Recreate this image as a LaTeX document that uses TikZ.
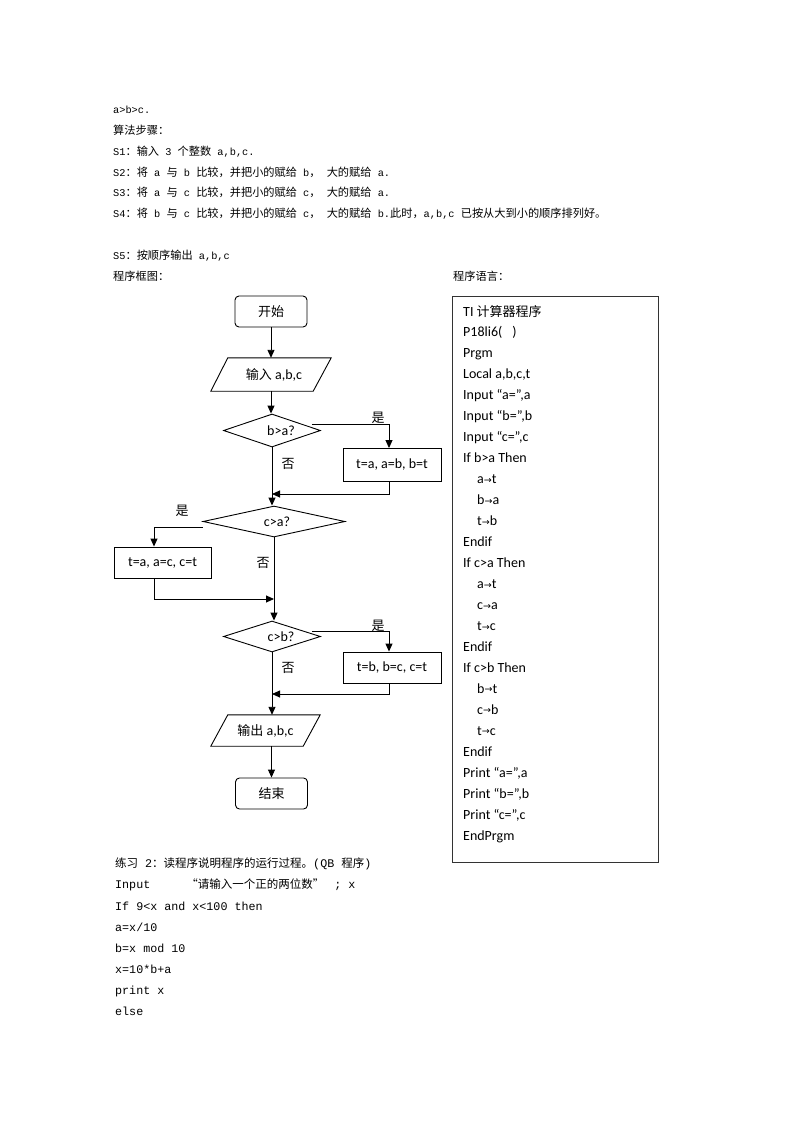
\documentclass[tikz,border=0pt]{standalone}
\usepackage{fontspec}
\setmainfont{Liberation Serif}
\newfontfamily\cjkfont{Noto Sans CJK SC}
\newfontfamily\califont{Carlito}
\newfontfamily\simmono{Liberation Mono}
\newfontfamily\symfont{DejaVu Sans}
\usetikzlibrary{shapes.geometric,arrows.meta}
\newcommand\tzh[1]{{\cjkfont\fontsize{11.2}{13}\selectfont #1}}
\newcommand\tla[1]{{\simmono\fontsize{10.3}{13}\selectfont #1}}
\newcommand\czh[1]{{\cjkfont\fontsize{13}{15}\selectfont #1}}
\newcommand\bzh[1]{{\cjkfont\fontsize{11.5}{14}\selectfont #1}}
\newcommand\bla[1]{{\simmono\fontsize{11.7}{14}\selectfont #1}}
\newcommand\tarr{{\symfont\fontsize{9.5}{10}\selectfont\raisebox{0.3pt}{→}}}
\begin{document}
\begin{tikzpicture}[x=1pt,y=-1pt,
  wire/.style={line width=0.9pt, draw=black},
  conn/.style={wire, -{Triangle[length=8pt,width=7pt]}},
  shapebase/.style={draw=black, line width=0.9pt, inner sep=0pt, font=\califont\fontsize{14}{16}\selectfont},
  term/.style={shapebase, rounded corners=4pt, minimum width=72pt, minimum height=31pt},
  proc/.style={shapebase, minimum width=98pt, minimum height=33pt},
  dec/.style={shapebase, diamond, aspect=3, minimum width=97pt, minimum height=33pt},
  iobox/.style={inner sep=0pt, font=\califont\fontsize{14}{16}\selectfont, minimum width=120pt, minimum height=33pt},
  lab/.style={inner sep=0pt, font=\cjkfont\fontsize{13}{15}\selectfont},
  txt/.style={anchor=base west, inner sep=0pt},
  codeln/.style={anchor=base west, inner sep=0pt, font=\califont\fontsize{14}{16}\selectfont}]
\useasboundingbox (0,0) rectangle (800,1132);
\fill[white] (0,0) rectangle (800,1132);

% ---------- top text ----------
\node[txt] (t0) at (113,113.7) {\tla{a>b>c.}};
\node[txt] (t1) at (113,134.5) {\tzh{算法步骤：}};
\node[txt] (t2) at (113,155.3) {\tla{S1}\tzh{：输入}\tla{ 3 }\tzh{个整数}\tla{ a,b,c.}};
\node[txt] (t3) at (113,176.1) {\tla{S2}\tzh{：将}\tla{ a }\tzh{与}\tla{ b }\tzh{比较，并把小的赋给}\tla{ b}\tzh{，}\tla{ }\tzh{大的赋给}\tla{ a.}};
\node[txt] (t4) at (113,196.9) {\tla{S3}\tzh{：将}\tla{ a }\tzh{与}\tla{ c }\tzh{比较，并把小的赋给}\tla{ c}\tzh{，}\tla{ }\tzh{大的赋给}\tla{ a.}};
\node[txt] (t5) at (113,217.7) {\tla{S4}\tzh{：将}\tla{ b }\tzh{与}\tla{ c }\tzh{比较，并把小的赋给}\tla{ c}\tzh{，}\tla{ }\tzh{大的赋给}\tla{ b.}\tzh{此时，}\tla{a,b,c }\tzh{已按从大到小的顺序排列好。}};
\node[txt] (t6) at (113,259.3) {\tla{S5}\tzh{：按顺序输出}\tla{ a,b,c}};
\node[txt] (t7) at (113,280.1) {\tzh{程序框图：}};
\node[txt] (t8) at (453,280.1) {\tzh{程序语言：}};

% ---------- flowchart ----------
\node[term] (start) at (271,311.5) {\czh{开始}};
\node[iobox] (in) at (271,374.5) {\hspace{6pt}\czh{输入} a,b,c};
\draw[wire] (in.south west) -- ([xshift=17pt]in.north west) -- (in.north east) -- ([xshift=-18pt]in.south east) -- cycle;
\node[dec] (d1) at (272,430.5) {\hspace{18pt}b>a?};
\node[proc] (p1) at (392,465) {t=a, a=b, b=t};
\node[dec, minimum width=142pt, minimum height=31pt] (d2) at (274,521.5) {\hspace{6pt}c>a?};
\node[proc, minimum width=97pt, minimum height=31pt] (p2) at (162.5,562.5) {t=a, a=c, c=t};
\node[dec, minimum height=31pt] (d3) at (272,636.5) {\hspace{18pt}c>b?};
\node[proc, minimum height=31pt] (p3) at (392,667.5) {t=b, b=c, c=t};
\node[iobox, minimum width=109pt, minimum height=31pt] (out) at (265.5,730.5) {\czh{输出} a,b,c};
\draw[wire] (out.south west) -- ([xshift=17pt]out.north west) -- (out.north east) -- ([xshift=-17pt]out.south east) -- cycle;
\node[term] (end) at (271.5,793.5) {\czh{结束}};

\coordinate (m1) at (272,494);
\coordinate (m2) at (274,599);
\coordinate (m3) at (272,694);

\draw[conn] (start.south) -- (in.north);
\draw[conn] (in.south) -- (in.south |- d1.north);
\draw[conn] ([xshift=-9pt,yshift=6.5pt]d1.east) -| ([xshift=-3pt]p1.north);
\draw[conn] ([xshift=-3pt]p1.south) |- (m1);
\draw[conn] (d1.south) -- (d1.south |- d2.north);
\draw[conn] ([yshift=-5.5pt]d2.west) -| ([xshift=-8.5pt]p2.north);
\draw[conn] ([xshift=-8.5pt]p2.south) |- (m2);
\draw[conn] (d2.south) -- (d2.south |- d3.north);
\draw[conn] ([xshift=-9pt,yshift=5.5pt]d3.east) -| ([xshift=-3pt]p3.north);
\draw[conn] ([xshift=-3pt]p3.south) |- (m3);
\draw[conn] (d3.south) -- (d3.south |- out.north);
\draw[conn] (end.north |- out.south) -- (end.north);

\node[lab] (l1) at (378,418) {是};
\node[lab] (l2) at (288,464) {否};
\node[lab] (l3) at (182,511) {是};
\node[lab] (l4) at (263,563) {否};
\node[lab] (l5) at (378,626) {是};
\node[lab] (l6) at (288,668) {否};

% ---------- program box ----------
\node[draw=black!80, line width=0.9pt, minimum width=206pt, minimum height=566pt, inner sep=0pt] (codebox) at (555,579) {};
\foreach \ln [count=\i from 0] in {%
  {TI \czh{计算器程序}},
  {P18li6(\hspace{10pt})},
  {Prgm},
  {Local a,b,c,t},
  {Input “a=”,a},
  {Input “b=”,b},
  {Input “c=”,c},
  {If b>a Then},
  {\hspace{14pt}a\tarr t},
  {\hspace{14pt}b\tarr a},
  {\hspace{14pt}t\tarr b},
  {Endif},
  {If c>a Then},
  {\hspace{14pt}a\tarr t},
  {\hspace{14pt}c\tarr a},
  {\hspace{14pt}t\tarr c},
  {Endif},
  {If c>b Then},
  {\hspace{14pt}b\tarr t},
  {\hspace{14pt}c\tarr b},
  {\hspace{14pt}t\tarr c},
  {Endif},
  {Print “a=”,a},
  {Print “b=”,b},
  {Print “c=”,c},
  {EndPrgm}}
  \node[codeln] (c\i) at (463,{316+20.96*\i}) {\ln};

% ---------- bottom text ----------
\node[txt] (b0) at (115,867) {\bzh{练习}\bla{ 2}\bzh{：读程序说明程序的运行过程。}\bla{(QB }\bzh{程序}\bla{)}};
\node[txt] (b1) at (115,888.5) {\bla{Input}\hspace{36pt}\bzh{“请输入一个正的两位数”}\hspace{10pt}\bla{; x}};
\node[txt] (b2) at (115,910) {\bla{If 9<x and x<100 then}};
\node[txt] (b3) at (115,931) {\bla{a=x/10}};
\node[txt] (b4) at (115,952) {\bla{b=x mod 10}};
\node[txt] (b5) at (115,973) {\bla{x=10*b+a}};
\node[txt] (b6) at (115,994) {\bla{print x}};
\node[txt] (b7) at (115,1015) {\bla{else}};
\end{tikzpicture}
\end{document}
